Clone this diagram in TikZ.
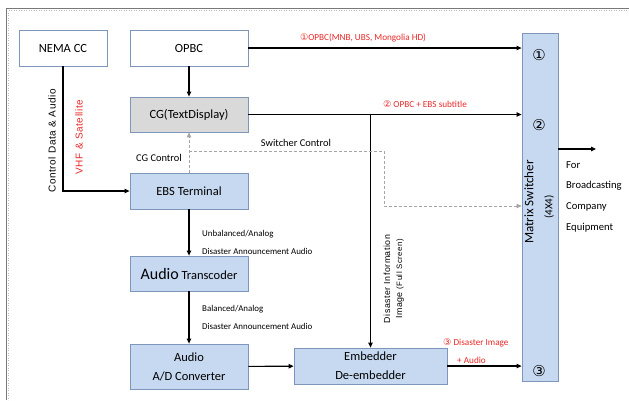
\documentclass[tikz,border=0pt]{standalone}
\usepackage{fontspec}
\setmainfont{Carlito}
\newfontfamily\symfont{DejaVu Sans}
\newfontfamily\widefont[LetterSpace=6]{Liberation Sans}
\usetikzlibrary{arrows.meta,calc}

\definecolor{boxedge}{RGB}{125,150,185}
\definecolor{boxblue}{RGB}{198,217,241}
\definecolor{cggray}{RGB}{217,217,217}
\definecolor{lblred}{RGB}{235,40,40}
\definecolor{dashgray}{RGB}{165,165,165}
\definecolor{framegray}{RGB}{120,120,120}

\tikzset{
  box/.style={draw=boxedge, line width=0.8pt, minimum width=118, minimum height=36,
    inner sep=0pt, align=center, font=\fontsize{12.5}{14}\selectfont},
  bluebox/.style={box, fill=boxblue},
  arr/.style={-{Triangle[length=5pt,width=4.5pt]}, line width=1.1pt},
  darr/.style={draw=dashgray, dash pattern=on 3pt off 2pt, line width=0.9pt,
    -{Triangle[length=5pt,width=4.5pt]}},
  dline/.style={draw=dashgray, dash pattern=on 3pt off 2pt, line width=0.9pt},
  redlbl/.style={text=lblred, inner sep=0pt, font=\fontsize{9.2}{10}\selectfont},
  smalllbl/.style={inner sep=0pt, anchor=west, font=\fontsize{8.9}{10}\selectfont},
  ctl/.style={inner sep=0pt, font=\fontsize{10.4}{11}\selectfont},
  circnum/.style={inner sep=0pt, font=\symfont\fontsize{15}{16}\selectfont},
  sidetxt/.style={anchor=west, inner sep=0pt, font=\fontsize{10.6}{12}\selectfont},
}

\begin{document}
\begin{tikzpicture}[x=1pt,y=-1pt]
\useasboundingbox (0,0) rectangle (629,400);

% outer frame
\draw[framegray, line width=0.6pt] (629,8.5) -- (6.5,8.5) -- (6.5,400);
\draw[framegray!50, line width=0.5pt, dotted] (629,10.5) -- (8.5,10.5) -- (8.5,400);

% boxes
\node[box, fill=white, minimum width=88] (nema) at (63,48) {NEMA CC};
\node[box, fill=white] (opbc) at (189,48) {OPBC};
\node[box, fill=cggray, minimum height=35] (cg) at (189,114.5) {CG(TextDisplay)};
\node[bluebox] (ebs) at (189,191) {EBS Terminal};
\node[bluebox, minimum height=35] (atc) at (189,273.5)
  {{\fontsize{16}{17}\selectfont Audio} Transcoder};
\node[bluebox, minimum height=45] (adc) at (189,366.5)
  {Audio\\[5pt]A/D Converter};
\node[bluebox, minimum width=153] (emb) at (370.5,366)
  {Embedder\\[5pt]De-embedder};
\node[bluebox, minimum width=36, minimum height=348] (mtx) at (540,207) {};

% matrix switcher contents
\node[circnum] (in1) at (539,55) {①};
\node[circnum] (in2) at (539,125) {②};
\node[circnum] (in3) at (539,371) {③};
\node[rotate=90, inner sep=0pt, font=\fontsize{13}{14}\selectfont] (mtxname) at (529,202) {Matrix Switcher};
\node[rotate=90, inner sep=0pt, font=\fontsize{11}{12}\selectfont] (mtxsize) at (549,207) {(4X4)};

% main signal paths
\draw[arr] (opbc.east) -- (opbc.east -| mtx.west);
\draw[arr] (cg.east) -- (cg.east -| mtx.west);
\draw[arr] (opbc) -- (cg);
\draw[arr] (nema.south) |- (ebs.west);
\draw[arr] (ebs) -- (atc);
\draw[arr] (atc) -- (adc);
\draw[arr] (adc) -- (emb);
\draw[arr] (emb.east) -- (emb.east -| mtx.west);
\coordinate (tap) at (emb.north |- cg.east);
\draw[arr] (tap) -- (emb.north);

% control paths
\draw[darr] (ebs.north) -- (cg.south);
\coordinate (swA) at (189,151);
\coordinate (swB) at (384,206);
\draw[dline] (swA) -| (swB);
\draw[darr] (swB) -- (swB -| mtx.west);

% output
\coordinate (out) at (596,149);
\draw[arr] (mtx.east |- out) -- (out);

% labels
\node[redlbl] (l1) at (363,38) {{\symfont ①}OPBC(MNB, UBS, Mongolia HD)};
\node[redlbl] (l2) at (425,104) {{\symfont ②} OPBC + EBS subtitle};
\node[redlbl, anchor=west] (l3) at (443,343) {{\symfont ③} Disaster Image};
\node[redlbl, anchor=west] (l4) at (457,360) {+ Audio};
\node[ctl] (cgc) at (159,158) {CG Control};
\node[ctl] (swc) at (296,143) {Switcher Control};
\node[rotate=90, inner sep=0pt, font=\widefont\fontsize{10}{11}\selectfont] (cda) at (52,141) {Control Data \& Audio};
\node[rotate=90, inner sep=0pt, text=lblred, font=\widefont\fontsize{10}{11}\selectfont] (vhf) at (79,137) {VHF \& Satellite};
\node[smalllbl] (u1) at (202,234) {Unbalanced/Analog};
\node[smalllbl] (u2) at (202,251) {Disaster Announcement Audio};
\node[smalllbl] (b1) at (202,309) {Balanced/Analog};
\node[smalllbl] (b2) at (202,326) {Disaster Announcement Audio};
\node[rotate=90, inner sep=0pt, font=\widefont\fontsize{8.8}{10}\selectfont] (dii) at (387,279) {Disaster Information};
\node[rotate=90, inner sep=0pt, font=\widefont\fontsize{8.8}{10}\selectfont] (dis) at (400,279) {Image {\fontsize{7.8}{9}\selectfont(Full Screen)}};
\node[sidetxt] (f1) at (566,165) {For};
\node[sidetxt] (f2) at (566,186) {Broadcasting};
\node[sidetxt] (f3) at (566,207) {Company};
\node[sidetxt] (f4) at (566,228) {Equipment};
\end{tikzpicture}
\end{document}
